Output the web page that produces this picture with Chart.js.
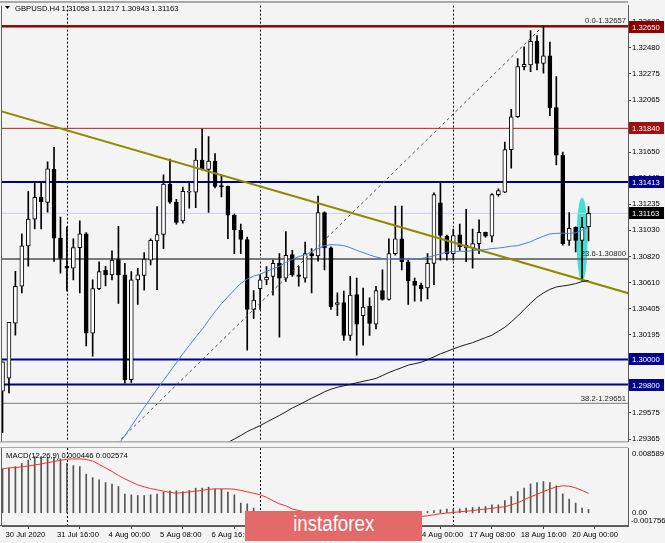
<!DOCTYPE html>
<html>
<head>
<meta charset="utf-8">
<title>GBPUSD H4</title>
<script src="https://cdn.jsdelivr.net/npm/chart.js@4.4.1/dist/chart.umd.min.js"></script>
<style>
  html, body { margin: 0; padding: 0; background: #f4f4f4; }
  #wrap { position: relative; width: 665px; height: 543px; overflow: hidden; }
  #main { position: absolute; left: 0; top: 0; }
  #macd { position: absolute; left: 0; top: 447px; }
  #logo {
    position: absolute; left: 245px; top: 511px; width: 177px; height: 30px;
    background: #e46969; color: #fff; text-align: center; line-height: 29px;
    font: 22px 'Liberation Sans', sans-serif;
  }
  #logo span { display: inline-block; transform: scaleX(0.85); }
</style>
</head>
<body>
<div id="wrap">
  <canvas id="main" width="665" height="447"></canvas>
  <canvas id="macd" width="665" height="96"></canvas>
  <div id="logo"><span>instaforex</span></div>
</div>
<script>
// GBPUSD H4, bars from 30 Jul 2020 08:00 to 20 Aug 2020 12:00
const symbol = 'GBPUSD.H4';

const opens = [1.29747,1.29852,1.30290,1.30583,1.30904,1.31117,1.31292,1.31251,1.31514,1.30966,
  1.30742,1.30726,1.30890,1.31000,1.30209,1.30564,1.30710,1.30673,1.30796,1.30673,
  1.29839,1.30634,1.30669,1.30791,1.30943,1.30995,1.31397,1.31253,1.31104,1.31331,
  1.31331,1.31587,1.31514,1.31579,1.31384,1.31378,1.31149,1.31031,1.30955,1.30399,
  1.30564,1.30634,1.30661,1.30765,1.30648,1.30836,1.30673,1.30648,1.30843,1.30825,
  1.31170,1.30888,1.30439,1.30452,1.30191,1.30517,1.30348,1.30426,1.30282,1.30548,
  1.30478,1.30843,1.30961,1.30778,1.30622,1.30590,1.30569,1.30765,1.31248,1.30982,
  1.30843,1.30992,1.30888,1.30888,1.30922,1.31013,1.30982,1.31313,1.31331,1.31671,
  1.31932,1.32331,1.32344,1.32532,1.32357,1.32417,1.32005,1.31626,1.30948,1.31052,
  1.30948,1.31058];
const highs = [1.29982,1.30295,1.30702,1.31000,1.31339,1.31417,1.31407,1.31574,1.31689,1.31133,
  1.31055,1.30961,1.31104,1.31010,1.30634,1.30778,1.30742,1.30865,1.31060,1.30765,
  1.30700,1.30726,1.30851,1.30961,1.31217,1.31470,1.31595,1.31274,1.31373,1.31405,
  1.31679,1.31835,1.31775,1.31640,1.31470,1.31380,1.31157,1.31078,1.30974,1.30548,
  1.30673,1.30739,1.30791,1.30843,1.31018,1.30869,1.30739,1.30935,1.30883,1.31300,
  1.31175,1.30896,1.30530,1.30544,1.30661,1.30648,1.30569,1.30491,1.30583,1.30713,
  1.30961,1.31222,1.31222,1.30791,1.30648,1.30608,1.30843,1.31327,1.31405,1.30990,
  1.31039,1.31078,1.31196,1.31039,1.31112,1.31015,1.31320,1.31358,1.31731,1.31992,
  1.32396,1.32488,1.32618,1.32579,1.32657,1.32527,1.32253,1.31652,1.31170,1.31055,
  1.31131,1.31217];
const lows = [1.29418,1.29734,1.30194,1.30530,1.30742,1.31039,1.31039,1.31172,1.30781,1.30687,
  1.30546,1.30634,1.30530,1.30107,1.30027,1.30556,1.30585,1.30634,1.30446,1.29812,
  1.29818,1.30439,1.30551,1.30752,1.30556,1.30883,1.31243,1.31078,1.31086,1.31204,
  1.31209,1.31509,1.31170,1.31366,1.31295,1.30961,1.30843,1.30843,1.30074,1.30327,
  1.30399,1.30595,1.30512,1.30178,1.30622,1.30661,1.30583,1.30616,1.30530,1.30783,
  1.30713,1.30399,1.30348,1.30152,1.30152,1.30035,1.30113,1.30191,1.30243,1.30473,
  1.30473,1.30830,1.30713,1.30439,1.30465,1.30465,1.30483,1.30595,1.30791,1.30791,
  1.30791,1.30869,1.30778,1.30726,1.30843,1.30974,1.30935,1.31300,1.31327,1.31522,
  1.31926,1.32305,1.32292,1.32305,1.32279,1.31940,1.31548,1.30910,1.30908,1.30857,
  1.30626,1.30943];
const closes = [1.29982,1.30295,1.30583,1.30904,1.31117,1.31290,1.31256,1.31517,1.30966,1.30804,
  1.30726,1.30890,1.31000,1.30209,1.30564,1.30700,1.30673,1.30791,1.30673,1.29839,
  1.30634,1.30673,1.30799,1.30948,1.30995,1.31397,1.31253,1.31092,1.31339,1.31339,
  1.31587,1.31514,1.31579,1.31378,1.31374,1.31149,1.31031,1.30955,1.30399,1.30473,
  1.30634,1.30653,1.30765,1.30648,1.30830,1.30673,1.30661,1.30843,1.30825,1.31170,
  1.30888,1.30421,1.30452,1.30191,1.30512,1.30282,1.30418,1.30287,1.30548,1.30478,
  1.30843,1.30961,1.30778,1.30626,1.30590,1.30564,1.30765,1.31313,1.30987,1.30843,
  1.30987,1.30896,1.30908,1.30922,1.31013,1.30982,1.31313,1.31345,1.31671,1.31932,
  1.32331,1.32349,1.32532,1.32357,1.32417,1.32005,1.31626,1.30922,1.31045,1.30948,
  1.31052,1.31163];

const _ = null;
const maBlue = [_,_,_,_,_,_,_,_,_,_,_,_,_,_,_,_,
  1.29183,1.29254,1.29324,1.29395,1.29469,1.29544,1.29618,1.29692,1.29763,1.29833,
  1.29904,1.29974,1.30045,1.30111,1.30178,1.30240,1.30311,1.30381,1.30444,1.30499,
  1.30554,1.30605,1.30640,1.30663,1.30679,1.30702,1.30722,1.30742,1.30773,1.30796,
  1.30820,1.30832,1.30859,1.30883,1.30906,1.30914,1.30912,1.30906,1.30890,1.30869,
  1.30851,1.30832,1.30816,1.30804,1.30800,1.30799,1.30799,1.30800,1.30803,1.30804,
  1.30812,1.30826,1.30840,1.30855,1.30859,1.30861,1.30861,1.30867,1.30871,1.30875,
  1.30883,1.30887,1.30894,1.30902,1.30906,1.30922,1.30937,1.30961,1.30981,1.31000,
  1.31004,1.31006,1.31004,1.31008,1.31031,1.31055];
const maBlack = [_,_,_,_,_,_,_,_,_,_,_,_,_,_,_,_,_,_,_,_,_,_,_,_,_,_,_,_,_,_,_,_,_,_,
  1.29317,1.29340,1.29367,1.29395,1.29426,1.29450,1.29473,1.29501,1.29528,1.29555,
  1.29583,1.29614,1.29638,1.29665,1.29692,1.29716,1.29743,1.29763,1.29779,1.29790,
  1.29802,1.29814,1.29826,1.29837,1.29849,1.29872,1.29896,1.29916,1.29935,1.29955,
  1.29966,1.29978,1.29998,1.30021,1.30045,1.30064,1.30084,1.30103,1.30119,1.30134,
  1.30154,1.30174,1.30193,1.30225,1.30256,1.30299,1.30346,1.30397,1.30448,1.30495,
  1.30530,1.30558,1.30577,1.30585,1.30593,1.30604,1.30620,1.30628];

// MACD(12,26,9): main histogram and signal line
const macdMain = [0.00581,0.00591,0.00612,0.00657,0.00700,0.00744,0.00744,0.00731,0.00731,0.00714,
  0.00657,0.00625,0.00612,0.00511,0.00466,0.00436,0.00400,0.00379,0.00348,0.00247,
  0.00238,0.00229,0.00229,0.00238,0.00247,0.00274,0.00291,0.00291,0.00281,0.00295,
  0.00326,0.00326,0.00340,0.00313,0.00313,0.00274,0.00238,0.00128,0.00119,0.00062,
  0.00020,-0.00010,-0.00040,-0.00070,-0.00085,-0.00100,-0.00110,-0.00105,-0.00100,-0.00090,
  -0.00095,-0.00125,-0.00145,-0.00160,-0.00170,-0.00176,-0.00170,-0.00160,-0.00140,-0.00120,
  -0.00095,-0.00070,-0.00055,-0.00040,-0.00025,-0.00010,0.00017,0.00030,0.00040,0.00049,
  0.00049,0.00053,0.00062,0.00070,0.00075,0.00083,0.00106,0.00106,0.00163,0.00216,
  0.00282,0.00327,0.00383,0.00401,0.00414,0.00401,0.00357,0.00251,0.00181,0.00128,
  0.00062,0.000446];
const macdSignal = [0.00581,0.00595,0.00601,0.00608,0.00621,0.00634,0.00647,0.00665,0.00680,0.00696,
  0.00710,0.00714,0.00714,0.00707,0.00687,0.00641,0.00595,0.00548,0.00495,0.00449,
  0.00410,0.00370,0.00344,0.00321,0.00304,0.00287,0.00271,0.00260,0.00267,0.00277,
  0.00287,0.00297,0.00311,0.00317,0.00317,0.00317,0.00313,0.00297,0.00277,0.00258,
  0.00238,0.00205,0.00159,0.00119,0.00092,0.00050,0.00030,0.00010,-0.00010,-0.00025,
  -0.00040,-0.00050,-0.00060,-0.00070,-0.00080,-0.00088,-0.00093,-0.00095,-0.00095,-0.00090,
  -0.00085,-0.00078,-0.00070,-0.00062,-0.00055,-0.00049,-0.00040,-0.00026,-0.00013,-0.00004,
  0.00004,0.00013,0.00020,0.00029,0.00040,0.00049,0.00059,0.00070,0.00079,0.00106,
  0.00132,0.00172,0.00211,0.00244,0.00281,0.00313,0.00344,0.00357,0.00353,0.00330,
  0.00297,0.002574];

// axis ticks
const priceTicks = [1.32690,1.32480,1.32275,1.32065,1.31860,1.31650,1.31445,1.31235,1.31030,
  1.30820,1.30610,1.30405,1.30195,1.29990,1.29780,1.29575,1.29365];
const dateTickBars = [0, 8, 16, 24, 32, 40, 48, 56, 64, 72, 80, 88];
const dateTickLabels = ['30 Jul 2020','31 Jul 16:00','4 Aug 00:00','5 Aug 08:00','6 Aug 16:00',
  '10 Aug 00:00','11 Aug 08:00','12 Aug 16:00','14 Aug 00:00','17 Aug 08:00','18 Aug 16:00','20 Aug 00:00'];
const weekStartBars = [10, 40, 70];

// drawn objects: horizontal levels, fibo, trend line, marked bar
const levelValues = [1.32650, 1.31840, 1.31413, 1.30000, 1.29800];
const fiboPercents = [0.0, 23.6, 38.2];
const fiboValues = [1.32657, 1.30800, 1.29651];
const fiboAnchorBars = [-72.8, 84];
const fiboAnchorPrices = [1.24788, 1.32657];
const trendBars = [-1, 98];
const trendPrices = [1.31988, 1.30515];
const markedBar = 90;
const markedRange = [1.30624, 1.31290];

// view window
const X_MIN = -0.08, X_MAX = 97.13;
const Y_MIN = 1.29348, Y_MAX = 1.32817;
const MACD_MIN = -0.001756, MACD_MAX = 0.008589;

// styles
const FONT = "'Liberation Sans', Arial, sans-serif";
const FSIZE = 7.7;
const levelColors = ['#8b0000', '#b32020', '#00008b', '#00008b', '#00008b'];
const levelWidths = [2, 1, 2, 2, 2];
const levelBoxColors = ['#8b0000', '#a01010', '#00008b', '#00008b', '#00008b'];
const fiboColors = ['#8b0000', '#7a7a7a', '#7a7a7a'];
const fiboWidths = [1, 2, 1];

Chart.defaults.font.family = FONT;
Chart.defaults.font.size = FSIZE;
Chart.defaults.color = '#000';

const hline = (v, color, width, order) => ({
  type: 'line', data: [{ x: X_MIN, y: v }, { x: X_MAX, y: v }],
  borderColor: color, borderWidth: width, pointRadius: 0, order
});

const lastClose = closes[closes.length - 1];

const mainDecor = {
  id: 'mainDecor',
  beforeDatasetsDraw(chart) {
    const { ctx, chartArea: a, scales: { x, y } } = chart;
    ctx.save();
    // weekly separators
    ctx.strokeStyle = '#000';
    ctx.lineWidth = 1;
    ctx.setLineDash([2, 2]);
    weekStartBars.forEach(b => {
      const px = Math.round(x.getPixelForValue(b)) + 0.5;
      ctx.beginPath(); ctx.moveTo(px, a.top); ctx.lineTo(px, a.bottom); ctx.stroke();
    });
    ctx.setLineDash([]);
    // highlighted bar
    const ex = x.getPixelForValue(markedBar);
    const t = y.getPixelForValue(markedRange[1]), b = y.getPixelForValue(markedRange[0]);
    ctx.fillStyle = 'rgba(56,222,206,0.95)';
    ctx.beginPath();
    ctx.ellipse(ex, (t + b) / 2, 5.5, (b - t) / 2, 0, 0, Math.PI * 2);
    ctx.fill();
    ctx.restore();
  },
  afterDatasetsDraw(chart) {
    const { ctx, chartArea: a, scales: { y } } = chart;
    ctx.save();
    ctx.font = FSIZE + 'px ' + FONT;
    ctx.fillStyle = '#222';
    ctx.textAlign = 'right';
    ctx.textBaseline = 'bottom';
    fiboValues.forEach((v, i) => {
      ctx.fillText(fiboPercents[i].toFixed(1) + '-' + v.toFixed(5), a.right - 2, y.getPixelForValue(v) - 1);
    });
    ctx.restore();
  },
  afterDraw(chart) {
    const { ctx, chartArea: a, scales: { y } } = chart;
    ctx.save();
    // frame
    ctx.fillStyle = '#a9a9a9';
    ctx.fillRect(0, 1, a.right, 2);
    ctx.fillStyle = '#8c8c8c';
    ctx.fillRect(0, a.bottom, a.right, 1);
    ctx.fillStyle = '#606060';
    ctx.fillRect(1, a.top, 1, a.bottom - a.top);
    // price boxes on the axis
    ctx.font = FSIZE + 'px ' + FONT;
    ctx.textBaseline = 'middle';
    ctx.textAlign = 'left';
    const box = (v, bg) => {
      const py = Math.round(y.getPixelForValue(v));
      ctx.fillStyle = bg;
      ctx.fillRect(a.right + 1, py - 6, 35, 12);
      ctx.fillStyle = '#fff';
      ctx.fillText(v.toFixed(5), a.right + 4, py + 0.5);
    };
    levelValues.forEach((v, i) => box(v, levelBoxColors[i]));
    box(lastClose, '#000');
    // header
    ctx.fillStyle = '#000';
    ctx.beginPath(); ctx.moveTo(5, 6); ctx.lineTo(10, 6); ctx.lineTo(7.5, 9); ctx.closePath(); ctx.fill();
    ctx.textBaseline = 'alphabetic';
    const last = opens.length - 1;
    ctx.fillText(symbol + ' ' + [opens[last], highs[last], lows[last], closes[last]].map(v => v.toFixed(5)).join(' '), 15, 11);
    ctx.restore();
  }
};

new Chart(document.getElementById('main'), {
  type: 'bar',
  data: {
    datasets: [
      { type: 'line', data: maBlue.map((v, i) => ({ x: i, y: v })), borderColor: '#4d7fe0', borderWidth: 1, pointRadius: 0, order: 0 },
      { type: 'line', data: maBlack.map((v, i) => ({ x: i, y: v })), borderColor: '#1a1a1a', borderWidth: 1, pointRadius: 0, order: 0 },
      { type: 'line', data: trendBars.map((b, i) => ({ x: b, y: trendPrices[i] })), borderColor: '#8f8a00', borderWidth: 2, pointRadius: 0, order: 0 },
      { type: 'line', data: fiboAnchorBars.map((b, i) => ({ x: b, y: fiboAnchorPrices[i] })), borderColor: '#505050', borderWidth: 1, borderDash: [3, 3], pointRadius: 0, order: 0 },
      {
        type: 'bar', data: opens.map((o, i) => ({ x: i, y: [o, closes[i]] })),
        backgroundColor: opens.map((o, i) => closes[i] >= o ? '#ffffff' : '#000000'),
        borderColor: '#000', borderWidth: 1, borderSkipped: false,
        barThickness: 4, minBarLength: 1, grouped: false, order: 1
      },
      {
        type: 'bar', data: lows.map((l, i) => ({ x: i, y: [l, highs[i]] })),
        backgroundColor: '#000', barThickness: 1, grouped: false, order: 2
      },
      ...levelValues.map((v, i) => hline(v, levelColors[i], levelWidths[i], 5)),
      ...fiboValues.map((v, i) => hline(v, fiboColors[i], fiboWidths[i], 5)),
      hline(lastClose, '#cdd0ee', 1, 6)
    ]
  },
  options: {
    responsive: false, animation: false, devicePixelRatio: 1,
    layout: { padding: { left: 2, top: 3, right: 0, bottom: 1 } },
    plugins: { legend: { display: false }, tooltip: { enabled: false } },
    scales: {
      x: { type: 'linear', min: X_MIN, max: X_MAX, offset: false, display: false },
      y: {
        position: 'right', min: Y_MIN, max: Y_MAX,
        afterFit: s => { s.width = 37; },
        afterBuildTicks: s => { s.ticks = priceTicks.map(v => ({ value: v })); },
        ticks: { callback: v => v.toFixed(5), padding: 1, autoSkip: false },
        grid: { drawOnChartArea: false, tickLength: 3, color: '#404040' },
        border: { color: '#5a5a5a' }
      }
    }
  },
  plugins: [mainDecor]
});

const macdDecor = {
  id: 'macdDecor',
  beforeDatasetsDraw(chart) {
    const { ctx, chartArea: a, scales: { x } } = chart;
    ctx.save();
    ctx.strokeStyle = '#000';
    ctx.lineWidth = 1;
    ctx.setLineDash([2, 2]);
    weekStartBars.forEach(b => {
      const px = Math.round(x.getPixelForValue(b)) + 0.5;
      ctx.beginPath(); ctx.moveTo(px, a.top); ctx.lineTo(px, a.bottom); ctx.stroke();
    });
    ctx.restore();
  },
  afterDraw(chart) {
    const { ctx, chartArea: a, scales: { y } } = chart;
    ctx.save();
    ctx.fillStyle = '#a9a9a9';
    ctx.fillRect(0, a.top - 1, a.right, 1);
    ctx.fillStyle = '#606060';
    ctx.fillRect(1, a.top, 1, a.bottom - a.top);
    ctx.fillRect(0, a.bottom - 1, a.right, 1);
    ctx.font = FSIZE + 'px ' + FONT;
    ctx.fillStyle = '#000';
    ctx.textAlign = 'left';
    ctx.textBaseline = 'alphabetic';
    const last = macdMain.length - 1;
    ctx.fillText('MACD(12,26,9) ' + macdMain[last].toFixed(6) + ' ' + macdSignal[last].toFixed(6), 6, a.top + 10);
    ctx.textBaseline = 'middle';
    ctx.fillText(MACD_MAX.toFixed(6), a.right + 4, a.top + 6);
    ctx.fillText('0.00', a.right + 4, y.getPixelForValue(0));
    ctx.fillText(MACD_MIN.toFixed(6), a.right + 3, a.bottom - 5);
    ctx.restore();
  }
};

new Chart(document.getElementById('macd'), {
  type: 'bar',
  data: {
    datasets: [
      { type: 'line', data: macdSignal.map((v, i) => ({ x: i, y: v })), borderColor: '#ff2b2b', borderWidth: 1, pointRadius: 0, order: 0 },
      { type: 'bar', data: macdMain.map((v, i) => ({ x: i, y: v })), backgroundColor: '#555555', barThickness: 1, order: 1 }
    ]
  },
  options: {
    responsive: false, animation: false, devicePixelRatio: 1,
    layout: { padding: { left: 2, top: 1, right: 0, bottom: 0 } },
    plugins: { legend: { display: false }, tooltip: { enabled: false } },
    scales: {
      x: {
        type: 'linear', min: X_MIN, max: X_MAX, offset: false,
        afterFit: s => { s.height = 17; },
        afterBuildTicks: s => { s.ticks = dateTickBars.map(v => ({ value: v })); },
        ticks: {
          callback: v => dateTickLabels[dateTickBars.indexOf(v)],
          align: 'start', labelOffset: 3, padding: 1, maxRotation: 0, autoSkip: false
        },
        grid: { drawOnChartArea: false, tickLength: 3, color: '#404040' },
        border: { color: '#5a5a5a' }
      },
      y: {
        position: 'right', min: MACD_MIN, max: MACD_MAX,
        afterFit: s => { s.width = 37; },
        ticks: { display: false },
        grid: { display: false },
        border: { display: true, color: '#5a5a5a' }
      }
    }
  },
  plugins: [macdDecor]
});
</script>
</body>
</html>
